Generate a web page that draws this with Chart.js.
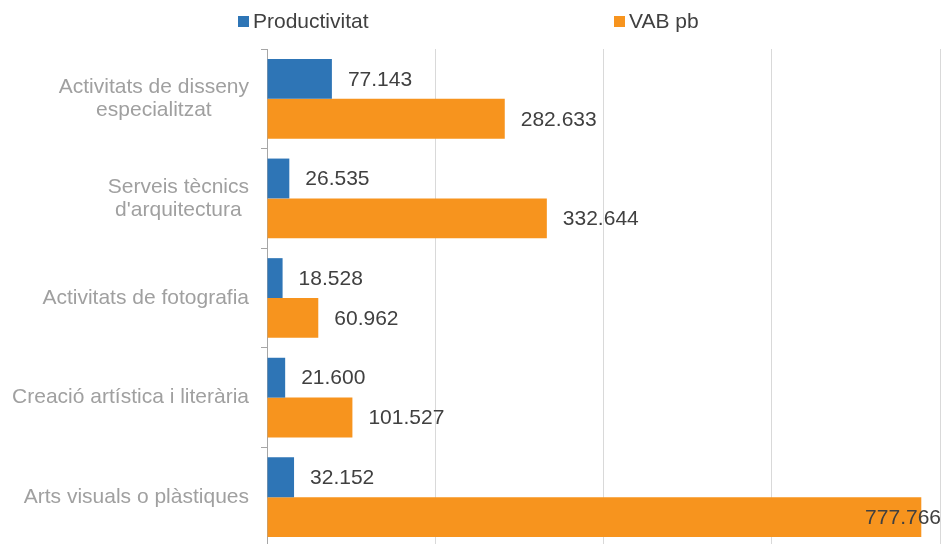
<!DOCTYPE html>
<html lang="ca">
<head>
    <meta charset="UTF-8">
    <title>Productivitat i VAB pb</title>
    <script src="https://cdn.jsdelivr.net/npm/chart.js"></script>
    <style>
        html, body { margin: 0; padding: 0; background: #fff; overflow: hidden; }
        canvas { display: block; }
    </style>
</head>
<body>
    <canvas id="chart" width="942" height="547"></canvas>

    <script>
        const categories = [
            ['Activitats de disseny', 'especialitzat'],
            ['Serveis tècnics', "d'arquitectura"],
            'Activitats de fotografia',
            'Creació artística i literària',
            'Arts visuals o plàstiques'
        ];
        const productivitat = [77143, 26535, 18528, 21600, 32152];
        const vabPb = [282633, 332644, 60962, 101527, 777766];
        const seriesNames = ['Productivitat', 'VAB pb'];
        const seriesColors = ['#2e75b6', '#f7941e'];

        const FONT = '"Liberation Sans", Arial, sans-serif';

        function fmt(v) {
            return Math.round(v).toString().replace(/\B(?=(\d{3})+(?!\d))/g, '.');
        }

        // legend at the top, items spread apart like the original
        const legendPlugin = {
            id: 'topLegend',
            afterDraw(chart) {
                const ctx = chart.ctx;
                const xs = [238, 614];
                ctx.save();
                ctx.font = '21px ' + FONT;
                ctx.textBaseline = 'middle';
                ctx.textAlign = 'left';
                chart.data.datasets.forEach((ds, i) => {
                    ctx.fillStyle = ds.backgroundColor;
                    ctx.fillRect(xs[i], 16, 11, 11);
                    ctx.fillStyle = '#404040';
                    ctx.fillText(ds.label, xs[i] + 15, 22);
                });
                ctx.restore();
            }
        };

        // category labels: block right aligned, lines centred within the block
        const catLabelPlugin = {
            id: 'catLabels',
            afterDraw(chart) {
                const ctx = chart.ctx;
                const yScale = chart.scales.y;
                const right = chart.chartArea.left - 18;
                ctx.save();
                ctx.font = '21px ' + FONT;
                ctx.fillStyle = '#a0a0a0';
                ctx.textBaseline = 'middle';
                ctx.textAlign = 'center';
                chart.data.labels.forEach((lab, i) => {
                    const lines = Array.isArray(lab) ? lab : [lab];
                    const widest = Math.max(...lines.map(l => ctx.measureText(l).width));
                    const cx = right - widest / 2;
                    const cy = yScale.getPixelForTick(i);
                    const lh = 23;
                    lines.forEach((l, j) => {
                        ctx.fillText(l, cx, cy + (j - (lines.length - 1) / 2) * lh);
                    });
                });
                ctx.restore();
            }
        };

        // value labels at the end of each bar
        const valueLabelPlugin = {
            id: 'valueLabels',
            afterDatasetsDraw(chart) {
                const ctx = chart.ctx;
                ctx.save();
                ctx.font = '21px ' + FONT;
                ctx.fillStyle = '#404040';
                ctx.textBaseline = 'middle';
                chart.data.datasets.forEach((ds, di) => {
                    const meta = chart.getDatasetMeta(di);
                    meta.data.forEach((bar, i) => {
                        const txt = fmt(ds.data[i]);
                        const w = ctx.measureText(txt).width;
                        let x = bar.x + 16;
                        if (x + w > chart.width) {
                            ctx.textAlign = 'right';
                            x = chart.width - 1;
                        } else {
                            ctx.textAlign = 'left';
                        }
                        ctx.fillText(txt, x, bar.y + 1);
                    });
                });
                ctx.restore();
            }
        };

        const ctx = document.getElementById('chart').getContext('2d');
        new Chart(ctx, {
            type: 'bar',
            data: {
                labels: categories,
                datasets: [
                    {
                        label: seriesNames[0],
                        data: productivitat,
                        backgroundColor: seriesColors[0],
                        categoryPercentage: 0.8,
                        barPercentage: 1.0
                    },
                    {
                        label: seriesNames[1],
                        data: vabPb,
                        backgroundColor: seriesColors[1],
                        categoryPercentage: 0.8,
                        barPercentage: 1.0
                    }
                ]
            },
            options: {
                indexAxis: 'y',
                responsive: false,
                animation: false,
                layout: { padding: { top: 49, right: 2, bottom: 0, left: 0 } },
                scales: {
                    x: {
                        min: 0,
                        max: 800000,
                        ticks: { display: false, stepSize: 200000 },
                        grid: { color: '#d9d9d9', drawTicks: false, lineWidth: 1 },
                        border: { display: false },
                        afterFit(scale) { scale.height = 0; }
                    },
                    y: {
                        ticks: { display: false },
                        grid: { drawOnChartArea: false, drawTicks: true, tickLength: 6, color: '#a6a6a6', offset: true },
                        border: { display: true, color: '#a6a6a6' },
                        afterFit(scale) { scale.width = 267; }
                    }
                },
                plugins: {
                    legend: { display: false },
                    tooltip: { enabled: false }
                }
            },
            plugins: [legendPlugin, catLabelPlugin, valueLabelPlugin]
        });
    </script>
</body>
</html>
